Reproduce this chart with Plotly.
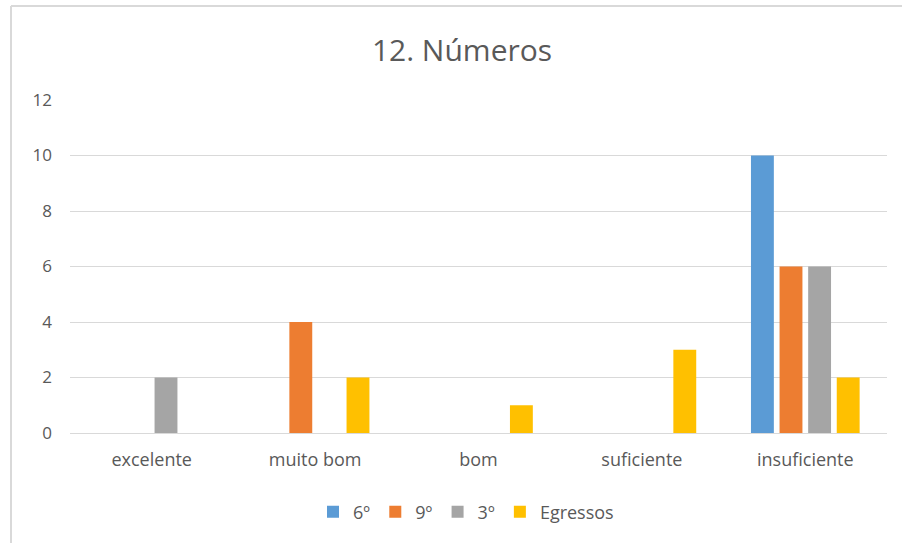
import plotly.graph_objects as go

categories = ["excelente", "muito bom", "bom", "suficiente", "insuficiente"]
series_names = ["6º", "9º", "3º", "Egressos"]
values_6 = [0, 0, 0, 0, 10]
values_9 = [0, 4, 0, 0, 6]
values_3 = [2, 0, 0, 0, 6]
values_egressos = [0, 2, 1, 3, 2]
colors = ["#5B9BD5", "#ED7D31", "#A5A5A5", "#FFC000"]
y_ticks = [0, 2, 4, 6, 8, 10, 12]

FONT = "Open Sans"
TEXT = "#595959"

W, H = 902, 543
L, R, T, B = 70, 15, 100, 110
plot_w = W - L - R
plot_h = H - T - B

fig = go.Figure()
for name, vals, col in zip(series_names, [values_6, values_9, values_3, values_egressos], colors):
    fig.add_trace(go.Bar(
        x=categories, y=vals, name=name,
        marker=dict(color=col, line=dict(width=0)),
    ))

def px_x(p):
    return (p - L) / plot_w

def px_y(p):
    return (H - B - p) / plot_h

# chart-area frame (top and left edges)
fig.add_shape(type="line", xref="paper", yref="paper",
              x0=px_x(11), x1=px_x(902), y0=px_y(6), y1=px_y(6),
              line=dict(color="#D9D9D9", width=2))
fig.add_shape(type="line", xref="paper", yref="paper",
              x0=px_x(11), x1=px_x(11), y0=px_y(6), y1=px_y(543),
              line=dict(color="#D9D9D9", width=2))

fig.update_layout(
    width=W, height=H,
    margin=dict(l=L, r=R, t=T, b=B),
    paper_bgcolor="white", plot_bgcolor="white",
    barmode="group", bargap=0.3, bargroupgap=0.2,
    font=dict(family=FONT, color=TEXT),
    title=dict(text="12. Números", x=462 / W, xanchor="center",
               y=1 - 50 / H, yanchor="middle",
               font=dict(family=FONT, size=30, color=TEXT)),
    xaxis=dict(showline=True, linecolor="#D9D9D9", linewidth=1,
               showgrid=False, ticks="", tickfont=dict(size=18, color=TEXT),
               ticklabelstandoff=10),
    yaxis=dict(range=[0, 12], tickvals=y_ticks, showgrid=True,
               gridcolor="#D9D9D9", gridwidth=1, zeroline=False,
               showline=False, ticks="", tickfont=dict(size=17, color=TEXT),
               ticklabelstandoff=17),
    legend=dict(orientation="h", x=466 / W, xanchor="center",
                xref="container", y=1 - 512 / H, yref="container", yanchor="middle",
                font=dict(size=18, color=TEXT), itemwidth=30,
                traceorder="normal"),
)

fig.write_html("out.html")
